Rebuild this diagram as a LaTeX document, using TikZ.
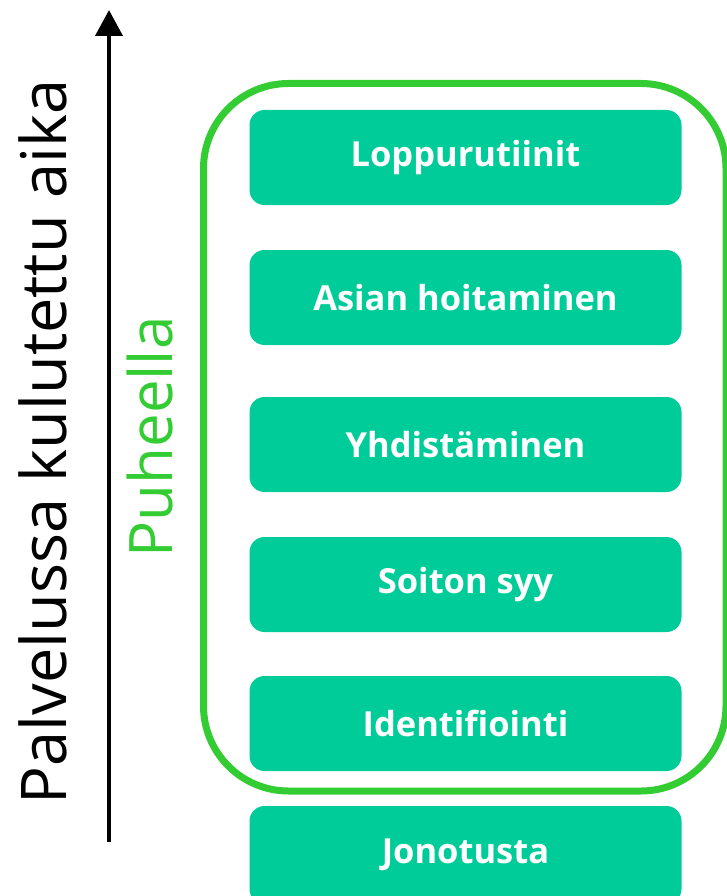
\documentclass[tikz,border=0pt]{standalone}
\usepackage{fontspec}
\setmainfont{Open Sans}
\usetikzlibrary{arrows.meta}

\definecolor{phasegreen}{RGB}{0,204,153}
\definecolor{callgreen}{RGB}{51,204,51}

\begin{document}
\begin{tikzpicture}[x=1pt, y=-1pt,
    phase/.style={fill=phasegreen, rounded corners=15pt, minimum width=432pt,
        minimum height=95pt, text=white, font=\fontsize{34.5}{40}\selectfont\bfseries},
    callframe/.style={draw=callgreen, line width=7pt, rounded corners=85pt}]

\useasboundingbox (0,0) rectangle (727,896);

%box for one phase of the call: name, y of centre, height, text
\newcommand{\phasebox}[4]{
        \node[phase, minimum height=#3] (#1) at (465.5,#2) {#4};
}

%%frame of the phone part
\draw[callframe] (203.5,83.5) rectangle (726,791);

%%phases, bottom to top
\phasebox{queue}{855}{98pt}{Jonotusta}
\phasebox{ident}{723.5}{95pt}{Identifiointi}
\phasebox{reason}{584.5}{95pt}{Soiton syy}
\phasebox{connect}{444.5}{95pt}{Yhdistäminen}
\phasebox{handle}{297.5}{95pt}{Asian hoitaminen}
\phasebox{closing}{157.5}{95pt}{Loppurutiinit}

%%time axis
\coordinate (tstart) at (109,842);
\coordinate (tend) at (109,10);
\draw[line width=4pt, -{Triangle[length=26pt, width=27pt]}] (tstart) -- (tend);

\node[rotate=90, font=\fontsize{63}{72}\selectfont] (timelabel) at (43,442) {Palvelussa kulutettu aika};
\node[rotate=90, text=callgreen, font=\fontsize{60}{68}\selectfont] (calllabel) at (150,437) {Puheella};

\end{tikzpicture}
\end{document}
